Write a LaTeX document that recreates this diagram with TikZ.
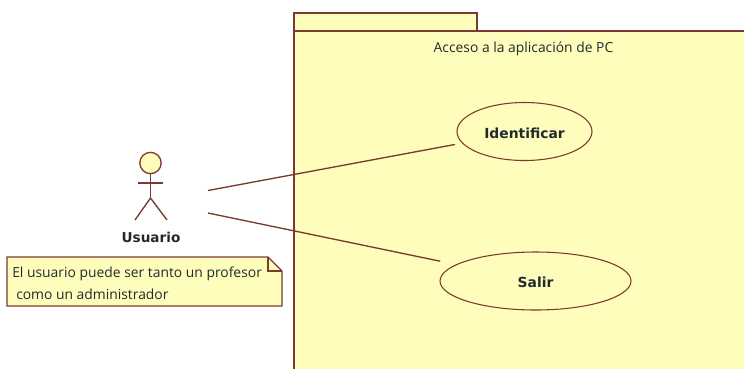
\documentclass[tikz,border=0pt]{standalone}
\usepackage{fontspec}
\setmainfont{Open Sans}
\newfontfamily\boldlabel{DejaVu Sans}
\usetikzlibrary{shapes.geometric}
\definecolor{umlfill}{HTML}{FFFDBB}
\definecolor{umlline}{HTML}{7A3A30}
\definecolor{umltext}{HTML}{222A30}
\tikzset{
  umlshape/.style={draw=umlline,fill=umlfill,line width=1pt},
  umlstroke/.style={draw=umlline,line width=1pt},
  usecase/.style={ellipse,draw=umlline,fill=umlfill,line width=0.8pt,inner sep=0pt,
    font=\fontsize{10.4}{13}\selectfont\bfseries\boldlabel,text=umltext},
  plain/.style={inner sep=0pt,text=umltext,font=\fontsize{10.4}{12}\selectfont},
  nameplate/.style={inner sep=0pt,text=umltext,font=\fontsize{10.2}{13}\selectfont\bfseries\boldlabel}
}
\begin{document}
\begin{tikzpicture}[x=0.75pt,y=-0.75pt]
\useasboundingbox (0,0) rectangle (744,369);
\fill[white] (0,0) rectangle (744,369);
% package
\path[umlshape] (294,31) -- (294,13) -- (477,13) -- (477,31) -- cycle;
\fill[umlfill] (294,31) rectangle (744,369);
\draw[umlstroke] (744,31) -- (294,31) -- (294,369);
\node[plain] (pkgtitle) at (523.5,49) {Acceso a la aplicación de PC};
% use cases
\node[usecase,minimum width=101.25pt,minimum height=43.5pt] (ident) at (524.5,131.5) {\raisebox{-1.5pt}[8pt][0pt]{Identificar}};
\node[usecase,minimum width=143.25pt,minimum height=43.5pt] (salir) at (535.5,281) {\raisebox{-1pt}[8pt][0pt]{Salir}};
% actor
\coordinate (hips) at (150.5,198);
\coordinate (armL) at (138,183);
\coordinate (armR) at (163,183);
\coordinate (legL) at (135,220);
\coordinate (legR) at (167,220);
\node[circle,draw=umlline,fill=umlfill,line width=1pt,minimum size=16pt,inner sep=0pt] (head) at (150.5,163) {};
\draw[umlstroke] (head.south) -- (hips);
\draw[umlstroke] (armL) -- (armR);
\draw[umlstroke] (legL) -- (hips) -- (legR);
\node[nameplate] (actorname) at (151,237) {Usuario};
% connectors
\coordinate (linkA) at (208,190.5);
\coordinate (linkB) at (208,213);
\draw[umlstroke,shorten >=5.3pt] (linkA) -- (ident);
\draw[umlstroke,shorten >=12pt] (linkB) -- (salir);
% note
\path[umlshape] (7,257) -- (268,257) -- (282,271) -- (282,306) -- (7,306) -- cycle;
\draw[umlstroke] (268,257) -- (268,271) -- (282,271);
\node[plain,anchor=west] (noteA) at (12,274) {El usuario puede ser tanto un profesor};
\node[plain,anchor=west] (noteB) at (16,294) {como un administrador};
\end{tikzpicture}
\end{document}
